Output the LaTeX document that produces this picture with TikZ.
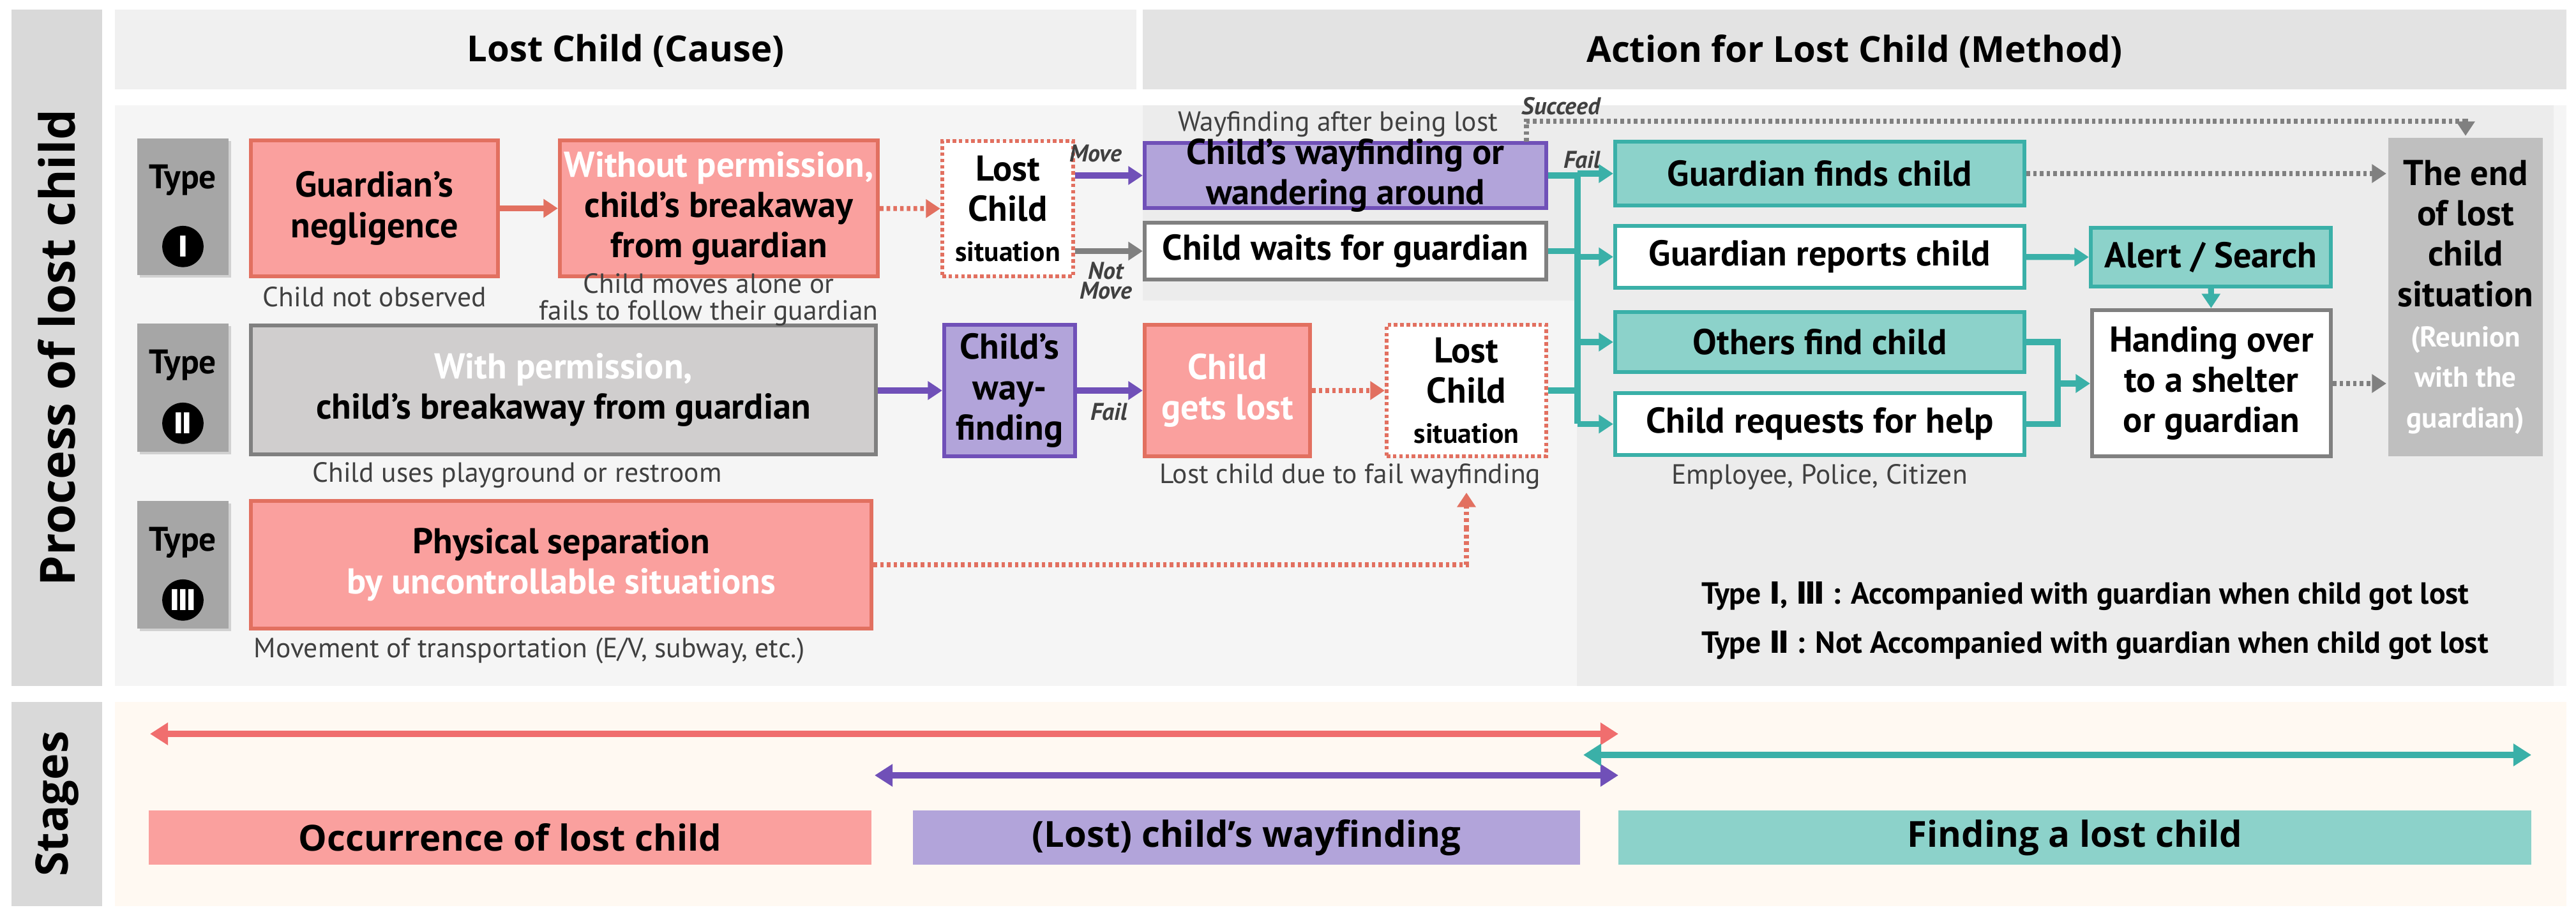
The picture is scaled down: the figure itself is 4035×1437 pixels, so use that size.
\documentclass[tikz,border=0pt]{standalone}
\usepackage{fontspec}
\setmainfont{PT Sans}
\newfontfamily\headfont{Open Sans}
\newfontfamily\numfont{DejaVu Sans}
\usetikzlibrary{arrows.meta,fit,shadows}

\definecolor{pinkfill}{RGB}{250,160,158}
\definecolor{pinkdraw}{RGB}{226,112,96}
\definecolor{purpfill}{RGB}{178,164,218}
\definecolor{purpdraw}{RGB}{112,80,184}
\definecolor{tealfill}{RGB}{140,210,202}
\definecolor{tealdraw}{RGB}{58,176,168}
\definecolor{greyfill}{RGB}{208,206,206}
\definecolor{greydraw}{RGB}{128,128,128}
\definecolor{textgrey}{RGB}{64,64,64}
\definecolor{stagered}{RGB}{240,110,110}

\newcommand{\bx}{\fontsize{40}{45}\selectfont\bfseries}
\newcommand{\sm}{\fontsize{31}{34}\selectfont}
\newcommand{\typetag}[4]{%
  \node[tag, fit={(215,#3) (358,#4)}] (#1) {};
  \node[font=\fontsize{38}{40}\selectfont\bfseries, anchor=north] (#1w) at ([yshift=-26pt]#1.north) {Type};
  \node[circle, fill=black, minimum size=46pt, inner sep=0pt, text=white,
        font=\numfont\fontsize{32}{32}\selectfont\bfseries] (#1n) at ([yshift=32pt]#1.south) {#2};}

\begin{document}
\begin{tikzpicture}[
  x=0.025cm, y=-0.025cm,
  box/.style={inner sep=0pt, line width=4.5pt},
  txt/.style={label={[align=center, font=\bx]center:{#1}}},
  pinkbox/.style={box, fill=pinkfill, draw=pinkdraw},
  purpbox/.style={box, fill=purpfill, draw=purpdraw},
  tealbox/.style={box, fill=tealfill, draw=tealdraw},
  whitebox/.style={box, fill=white, draw=tealdraw},
  greybox/.style={box, fill=white, draw=greydraw},
  lostbox/.style={box, fill=white, draw=pinkdraw, dash pattern=on 4pt off 3pt},
  tag/.style={inner sep=0pt, fill=greydraw!70, drop shadow={opacity=.3}},
  note/.style={font=\sm, text=textgrey},
  lab/.style={font=\fontsize{27}{28}\selectfont\itshape\bfseries, text=textgrey, align=center},
  conn/.style={line width=6.5pt, -{Triangle[length=16pt,width=20pt]}},
  dotconn/.style={line width=5.5pt, dash pattern=on 4pt off 3.5pt, -{Triangle[length=16pt,width=20pt]}},
  stage/.style={line width=7pt, {Triangle[length=20pt,width=24pt]}-{Triangle[length=20pt,width=24pt]}},
  stagebox/.style={inner sep=0pt, label={[font=\headfont\fontsize{40}{44}\selectfont\bfseries]center:{#1}}}
]
\useasboundingbox (0,0) rectangle (4035,1437);

% backgrounds
\fill[gray!30] (18,15) rectangle (160,1075);
\fill[gray!30] (18,1100) rectangle (160,1420);
\fill[gray!12] (180,15) rectangle (1780,140);
\fill[gray!22] (1790,15) rectangle (4020,140);
\fill[gray!8] (180,165) rectangle (4020,1075);
\fill[gray!15] (2470,165) rectangle (4000,1075);
\fill[gray!15] (1790,165) rectangle (2470,471);
\fill[orange!5] (180,1100) rectangle (4020,1420);

\node[rotate=90, font=\headfont\fontsize{54}{60}\selectfont\bfseries] (proc) at (89,545) {Process of lost child};
\node[rotate=90, font=\headfont\fontsize{50}{60}\selectfont\bfseries] (stg) at (89,1260) {Stages};
\node[font=\headfont\fontsize{40}{44}\selectfont\bfseries] (cause) at (980,80) {Lost Child (Cause)};
\node[font=\headfont\fontsize{40}{44}\selectfont\bfseries] (method) at (2905,80) {Action for Lost Child (Method)};

% types
\typetag{t1}{Ⅰ}{217}{431}
\typetag{t2}{Ⅱ}{507}{708}
\typetag{t3}{Ⅲ}{785}{985}

% cause boxes
\node[pinkbox, fit={(393,220) (780,433)}, txt={Guardian’s\\negligence}] (neg) {};
\node[pinkbox, fit={(877,220) (1375,433)}, txt={\textcolor{white}{Without permission,}\\child’s breakaway\\from guardian}] (brk) {};
\node[greybox, fill=greyfill, fit={(393,510) (1372,712)}, txt={\textcolor{white}{With permission,}\\child’s breakaway from guardian}] (perm) {};
\node[pinkbox, fit={(393,785) (1365,985)}, txt={Physical separation\\\textcolor{white}{by uncontrollable situations}}] (phys) {};
\node[note] (nobs) at (587,465) {Child not observed};
\node[note, align=center, font=\fontsize{31}{30}\selectfont] (moves) at (1110,470) {Child moves alone or\\fails to follow their guardian};
\node[note] (play) at (810,745) {Child uses playground or restroom};
\node[note, anchor=west] (trans) at (393,1020) {Movement of transportation (E/V, subway, etc.)};

% lost situations and wayfinding
\node[lostbox, fit={(1476,221) (1681,433)}, txt={Lost\\Child\\{\sm situation}}] (lc1) {};
\node[purpbox, fit={(1793,224) (2422,326)}, txt={Child’s wayfinding or\\wandering around}] (wand) {};
\node[greybox, fit={(1793,349) (2422,438)}, txt={Child waits for guardian}] (wait) {};
\node[purpbox, fit={(1479,509) (1684,715)}, txt={Child’s\\way-\\finding}] (wf2) {};
\node[pinkbox, fit={(1793,509) (2052,715)}, txt={\textcolor{white}{Child}\\\textcolor{white}{gets lost}}] (lost) {};
\node[lostbox, fit={(2172,509) (2422,715)}, txt={Lost\\Child\\{\sm situation}}] (lc2) {};
\node[note] (fwf) at (2115,747) {Lost child due to fail wayfinding};
\node[note] (after) at (2096,195) {Wayfinding after being lost};
\node[lab] (move) at (1716,240) {Move};
\node[lab] (nmove) at (1732,440) {Not\\[-6pt]Move};
\node[lab] (fail1) at (2478,250) {Fail};
\node[lab] (fail2) at (1737,645) {Fail};
\node[lab] (succ) at (2445,166) {Succeed};

% method boxes
\node[tealbox, fit={(2530,222) (3171,322)}, txt={Guardian finds child}] (gfind) {};
\node[whitebox, fit={(2530,354) (3171,451)}, txt={Guardian reports child}] (grep) {};
\node[tealbox, fit={(2530,489) (3171,583)}, txt={Others find child}] (ofind) {};
\node[whitebox, fit={(2530,616) (3171,713)}, txt={Child requests for help}] (creq) {};
\node[note] (emp) at (2850,747) {Employee, Police, Citizen};
\node[tealbox, fit={(3275,357) (3651,449)}, txt={Alert / Search}] (alert) {};
\node[greybox, fit={(3277,486) (3651,715)}, txt={Handing over\\to a shelter\\or guardian}] (hand) {};
\node[box, draw=none, fill=gray!50, fit={(3741,216) (3983,715)},
  txt={The end\\of lost\\child\\situation\\{\fontsize{32}{38}\selectfont\textcolor{white}{(Reunion}}\\{\fontsize{32}{38}\selectfont\textcolor{white}{with the}}\\{\fontsize{32}{38}\selectfont\textcolor{white}{guardian)}}}] (endb) {};

\node[font=\fontsize{34}{36}\selectfont\bfseries, anchor=west] (leg1) at (2660,934) {Type {\numfont Ⅰ}, {\numfont Ⅲ} : Accompanied with guardian when child got lost};
\node[font=\fontsize{34}{36}\selectfont\bfseries, anchor=west] (leg2) at (2660,1011) {Type {\numfont Ⅱ} : Not Accompanied with guardian when child got lost};

\coordinate (trk) at (2471,275);
\coordinate (trkb) at (2471,664);
\coordinate (mrg) at (3223,601);
\coordinate (sucA) at (2391,222);
\coordinate (lc2in) at (2297,772);

% connectors
\draw[conn, pinkdraw] (neg) -- (brk);
\draw[dotconn, pinkdraw] (brk) -- (lc1);
\draw[conn, purpdraw] (lc1.east |- wand.west) -- (wand.west);
\draw[conn, greydraw] (lc1.east |- wait.west) -- (wait.west);
\draw[conn, purpdraw] (perm.east |- wf2.west) -- (wf2.west);
\draw[conn, purpdraw] (wf2) -- (lost);
\draw[dotconn, pinkdraw] (lost) -- (lc2);
\draw[dotconn, pinkdraw, -] (phys.east) -| ([yshift=-40pt]lc2in);
\draw[dotconn, pinkdraw] ([yshift=-40pt]lc2in) -- (lc2in);

\draw[line width=6.5pt, tealdraw] (wand.east) -- (trk) -- (trkb);
\draw[line width=6.5pt, tealdraw] (wait.east) -- (wait.east -| trk);
\draw[line width=6.5pt, tealdraw] (lc2.east) -- (lc2.east -| trk);
\foreach \b in {gfind,grep,ofind,creq}
  \draw[conn, tealdraw] (\b.west -| trk) -- (\b.west);
\draw[conn, tealdraw] (grep) -- (alert);
\draw[conn, tealdraw] (alert) -- (hand);
\draw[line width=6.5pt, tealdraw] (ofind.east) -| (mrg) |- (creq.east);
\draw[conn, tealdraw] (mrg) -- (hand.west |- mrg);
\draw[dotconn, greydraw] (gfind.east) -- (gfind.east -| endb.west);
\draw[dotconn, greydraw] (hand.east |- mrg) -- (endb.west |- mrg);
\draw[dotconn, greydraw] (sucA) |- (endb.north |- 0,190) -- (endb.north);

% stages
\coordinate (s1a) at (235,1150);  \coordinate (s1b) at (2535,1150);
\coordinate (s2a) at (1370,1215); \coordinate (s2b) at (2535,1215);
\coordinate (s3a) at (2480,1183); \coordinate (s3b) at (3965,1183);
\draw[stage, stagered] (s1a) -- (s1b);
\draw[stage, purpdraw] (s2a) -- (s2b);
\draw[stage, tealdraw] (s3a) -- (s3b);
\node[fill=pinkfill, fit={(233,1270) (1365,1355)}, stagebox={Occurrence of lost child}] (occ) {};
\node[fill=purpfill, fit={(1430,1270) (2475,1355)}, stagebox={(Lost) child’s wayfinding}] (wfs) {};
\node[fill=tealfill, fit={(2535,1270) (3965,1355)}, stagebox={Finding a lost child}] (fnd) {};
\end{tikzpicture}
\end{document}
